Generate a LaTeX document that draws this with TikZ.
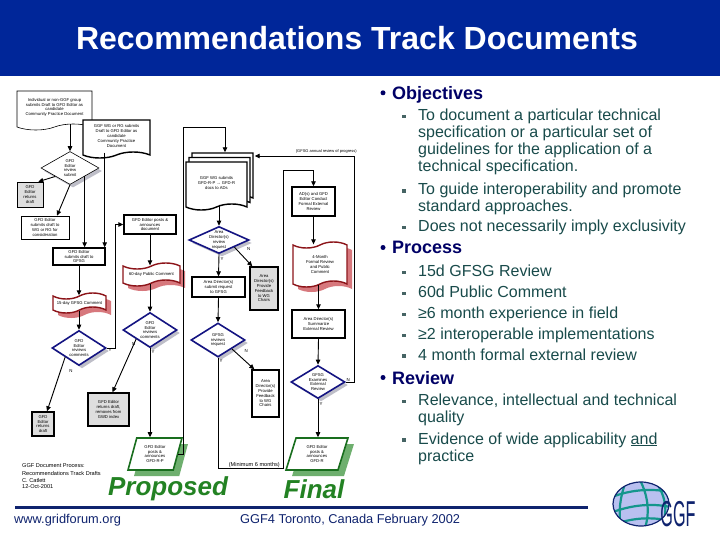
\documentclass[tikz,border=0pt]{standalone}
\usepackage{fontspec}
\setmainfont{Liberation Sans}
\usepackage{tikz}
\usetikzlibrary{arrows.meta,shapes.geometric,shapes.symbols,shadows}
\definecolor{slideblue}{RGB}{0,38,153}
\definecolor{headnavy}{RGB}{0,0,102}
\definecolor{bodyteal}{RGB}{25,75,75}
\definecolor{bulgray}{RGB}{70,100,100}
\definecolor{dnavy}{RGB}{20,20,130}
\definecolor{flagred}{RGB}{140,20,25}
\definecolor{flagpink}{RGB}{215,120,125}
\definecolor{pgreen}{RGB}{25,110,30}
\definecolor{pgreenlt}{RGB}{110,175,110}
\definecolor{wordgreen}{RGB}{35,130,35}
\definecolor{shgray}{RGB}{190,190,200}
\definecolor{boxgray}{RGB}{222,222,222}
\definecolor{footnavy}{RGB}{15,35,110}
\definecolor{globefill}{RGB}{185,192,240}
\definecolor{globegrid}{RGB}{20,150,140}
\newcommand{\fcfont}{\fontsize{4.2}{4.8}\selectfont}
\newcommand{\bulX}{404}
\newcommand{\txtX}{418}
\tikzset{
  fc/.style      ={font=\fcfont,align=center,inner sep=0pt,text=black},
  fcbox/.style   ={fc,rectangle,draw=black,line width=1.4pt,fill=white},
  fcthin/.style  ={fcbox,line width=0.6pt},
  fcgray/.style  ={fcbox,fill=boxgray},
  fcdoc/.style   ={fc,tape,tape bend top=none,tape bend height=6pt,draw=black,line width=1.4pt,fill=white},
  fcflag/.style  ={fc,tape,tape bend height=6pt,draw=flagred,line width=1.4pt,fill=white,
                   drop shadow={shadow xshift=5pt,shadow yshift=-5pt,fill=flagpink,opacity=1}},
  fcdec/.style   ={fc,diamond,aspect=1.7,draw=dnavy,line width=1.6pt,fill=white,
                   drop shadow={shadow xshift=3pt,shadow yshift=-3pt,fill=shgray,opacity=1}},
  fcdecthin/.style={fcdec,draw=black,line width=0.6pt},
  fcpost/.style  ={fc,trapezium,trapezium left angle=74,trapezium right angle=106,
                   trapezium stretches=true,draw=pgreen,line width=1.6pt,fill=white,
                   drop shadow={shadow xshift=6pt,shadow yshift=-6pt,fill=pgreenlt,opacity=1}},
  arr/.style     ={line width=0.9pt,-{Triangle[length=5pt,width=4.5pt]}},
  yn/.style      ={font=\fontsize{4.4}{4.4}\selectfont,inner sep=0.5pt},
  note/.style    ={font=\fontsize{4.6}{5.4}\selectfont,inner sep=0pt},
  bigword/.style ={font=\fontsize{26}{26}\selectfont\bfseries\itshape,text=wordgreen,inner sep=0pt},
  headdot/.style ={circle,fill=headnavy,inner sep=0pt,minimum size=5pt},
  subsq/.style   ={rectangle,fill=bulgray,inner sep=0pt,minimum size=3.4pt},
  head/.style    ={font=\fontsize{18}{20}\selectfont\bfseries,text=headnavy,anchor=base west,inner sep=0pt},
  body/.style    ={font=\fontsize{16}{17}\selectfont,text=bodyteal,anchor=base west,inner sep=0pt},
  foot/.style    ={font=\fontsize{12.8}{13}\selectfont,text=footnavy,anchor=base west,inner sep=0pt},
}
\newcommand{\headline}[3]{%
  \node[headdot] (#1dot) at (383,#2-6.5) {};
  \node[head] (#1) at (392,#2) {#3};}
\newcommand{\bitem}[3]{%
  \node[subsq] (#1sq) at (\bulX,#2-4) {};
  \node[body] (#1) at (\txtX,#2) {#3};}
\newcommand{\bmore}[3]{\node[body] (#1) at (\txtX,#2) {#3};}

\begin{document}
\begin{tikzpicture}[x=1pt,y=-1pt]
  \fill[white] (0,0) rectangle (720,540);
  \useasboundingbox (0,0) rectangle (720,540);
  \fill[slideblue] (0,0) rectangle (720,76);
  \node[font=\fontsize{32}{36}\selectfont\bfseries,text=white] (title) at (357,38) {Recommendations Track Documents};

  % draft intake
  \node[fcdoc,line width=0.6pt,minimum width=75pt,minimum height=39pt] (indiv) at (54.5,107.5)
    {Individual or non-GGF group\\submits Draft to GFD Editor as\\candidate\\Community Practice Document};
  \node[fcdoc,minimum width=67pt,minimum height=38pt] (wgdoc) at (116.5,136)
    {GGF WG or RG submits\\Draft to GFD Editor as\\candidate\\Community Practice\\Document};
  \node[fcdecthin,minimum width=58pt,minimum height=33pt] (edrev) at (70,168) {GFD\\Editor\\review\\submit};
  \node[fcgray,line width=0.6pt,minimum width=26pt,minimum height=25pt] (edret1) at (30,194.5) {GFD\\Editor\\returns\\draft};
  \node[fcthin,minimum width=48pt,minimum height=23pt] (edwg) at (45,227.5) {GFD Editor\\submits draft to\\WG or RG for\\consideration};
  \node[fcbox,minimum width=52pt,minimum height=17pt] (edgfsg) at (79,256.5) {GFD Editor\\submits draft to\\GFSG};
  \node[fcflag,minimum width=53pt,minimum height=20pt] (gfsgcom) at (79.5,303) {15-day GFSG Comment};
  \node[fcdec,minimum width=54pt,minimum height=35pt] (edcom1) at (79,348) {GFD\\Editor\\reviews\\comments};
  \node[fcgray,minimum width=22pt,minimum height=24pt] (edret2) at (43,424) {GFD\\Editor\\returns\\draft};
  \node[fcbox,minimum width=52pt,minimum height=19pt] (posts) at (150,224.5) {GFD Editor posts \&\\announces\\document};
  \node[fcflag,minimum width=57pt,minimum height=23pt] (pubcom) at (151.5,274.5) {60-day Public Comment};
  \node[fcdec,minimum width=54pt,minimum height=35pt] (edcom2) at (150,330) {GFD\\Editor\\reviews\\comments};
  \node[fcgray,minimum width=41pt,minimum height=33pt] (edret3) at (108.5,409.5) {GFD Editor\\returns draft,\\removes from\\GWD index};
  \node[fcpost,minimum width=54pt,minimum height=32pt] (rp) at (155,454) {GFD Editor\\posts \&\\announces\\GFD-R-P};

  % AD / GFSG path
  \node[fcdoc,minimum width=61pt,minimum height=48pt,
        copy shadow={shadow xshift=6pt,shadow yshift=9pt},
        copy shadow={shadow xshift=3pt,shadow yshift=4.5pt}] (stack) at (216.5,183)
    {GGF WG submits\\GFD-R-P → GFD-R\\docs to ADs};
  \node[fcdec,aspect=2.2,minimum width=60pt,minimum height=27pt] (adrev) at (219,240) {Area\\Director(s)\\review\\request};
  \node[fcgray,minimum width=28pt,minimum height=43pt] (adfb1) at (264,288.5) {Area\\Director(s)\\Provide\\Feedback\\to WG\\Chairs};
  \node[fcbox,minimum width=53pt,minimum height=20pt] (adsub) at (218.5,287) {Area Director(s)\\submit request\\to GFSG};
  \node[fcdec,minimum width=54pt,minimum height=34pt] (gfsgrev) at (218,340) {GFSG\\reviews\\request};
  \node[fcbox,minimum width=27pt,minimum height=47pt] (adfb2) at (265.5,393.5) {Area\\Director(s)\\Provide\\Feedback\\to WG\\Chairs};
  \node[fcbox,minimum width=43pt,minimum height=29pt] (extrev) at (313.5,201.5) {AD(s) and GFD\\Editor Conduct\\Formal External\\Review};
  \node[fcflag,minimum width=54pt,minimum height=45pt] (fourmo) at (320,264.5) {4-Month\\Formal Review\\and Public\\Comment};
  \node[fcbox,minimum width=53pt,minimum height=28pt] (adsum) at (318.5,324) {Area Director(s)\\Summarize\\External Review};
  \node[fcdec,minimum width=54pt,minimum height=33pt] (gfsgex) at (318,382) {GFSG\\Examines\\External\\Review};
  \node[fcpost,minimum width=62pt,minimum height=32pt] (rfin) at (317,454) {GFD Editor\\posts \&\\announces\\GFD-R};

  \coordinate (gfs) at ([xshift=-1pt]edgfsg.north east);
  \coordinate (lp1) at (183,127);
  \coordinate (lp2) at (225,127);
  \coordinate (stk) at ([xshift=8.5pt,yshift=9pt]stack.north);
  \coordinate (stkE) at ([xshift=7pt,yshift=27pt]stack.east);
  \coordinate (mLow) at (283,468);
  \coordinate (mTop) at (283,170);

  \draw[arr] (edrev.north |- indiv.south) -- (edrev.north);
  \draw[arr] (gfs |- wgdoc.south) -- (gfs);
  \draw[arr] (edrev.south west) -- ([xshift=-5pt]edret1.north east);
  \draw[arr] (edrev.south) -- ([xshift=12pt]edwg.north);
  \draw[arr] (edrev.south east) -- (edrev.south east |- edgfsg.north);
  \draw[arr] (edgfsg.south) -- (edgfsg.south |- gfsgcom.north);
  \draw[arr] (edcom1.north |- gfsgcom.south) -- (edcom1.north);
  \draw[arr] (edcom1.south west) -- ([xshift=4pt]edret2.north);
  \draw[arr] (edcom1.east) -- ++(9,0) |- (posts.west);
  \draw[arr] (posts.south) -- (posts.south |- pubcom.north);
  \draw[arr] (edcom2.north |- pubcom.south) -- (edcom2.north);
  \draw[arr] (edcom2.south west) -- ([xshift=4pt]edret3.north);
  \draw[arr] (edcom2.south) -- (edcom2.south |- rp.north);
  \draw[arr] (rp.east) -- (rp.east -| lp1) -- (lp1) -- (lp2) -- (stk);
  \draw[arr] (adrev.north |- stack.south) -- (adrev.north);
  \draw[arr] (adrev.south east) -- ([xshift=3pt]adfb1.north west);
  \draw[arr] (adrev.south) -- (adsub.north);
  \draw[arr] (adsub.south) -- (gfsgrev.north);
  \draw[arr] (gfsgrev.south east) -- ([xshift=3pt]adfb2.north west);
  \draw[arr] (gfsgrev.south) |- (mLow) -- (mTop) -| (extrev.north);
  \draw[arr] (extrev.south) -- (extrev.south |- fourmo.north);
  \draw[arr] (adsum.north |- fourmo.south) -- (adsum.north);
  \draw[arr] (adsum.south) -- (gfsgex.north);
  \draw[arr] (gfsgex.south) -- (gfsgex.south |- rfin.north);
  \draw[arr] (gfsgex.east) -- ++(9,0) |- (stkE);

  \node[yn,anchor=north west] (y1) at ([xshift=1pt]edcom1.east) {Y};
  \node[yn,anchor=north] (n1) at ([xshift=-8pt,yshift=-2pt]edcom1.south) {N};
  \node[yn,anchor=north west] (y2) at ([xshift=1pt,yshift=-1pt]edcom2.south) {Y};
  \node[yn,anchor=north east] (n2) at ([yshift=-3pt]edcom2.south west) {N};
  \node[yn,anchor=north west] (y3) at ([xshift=1pt,yshift=-2pt]adrev.south) {Y};
  \node[yn,anchor=north west] (n3) at ([xshift=12pt]adrev.south east) {N};
  \node[yn,anchor=north west] (y4) at ([xshift=1pt,yshift=-1pt]gfsgrev.south) {Y};
  \node[yn,anchor=north west] (n4) at ([xshift=12pt]gfsgrev.south east) {N};
  \node[yn,anchor=south west] (n5) at (gfsgex.east) {N};
  \node[yn,anchor=north west] (y5) at ([xshift=1pt,yshift=-2pt]gfsgex.south) {Y};

  \node[note,font=\fontsize{4}{4.6}\selectfont,anchor=base east] (annual) at (357,153) {(GFSG annual review of progress)};
  \node[note,font=\fontsize{5.6}{6}\selectfont,anchor=base east] (sixmo) at (280,466) {(Minimum 6 months)};
  \node[note,font=\fontsize{5.6}{6.2}\selectfont,anchor=north west,align=left] (credit) at (22,463)
    {GGF Document Process:\\[2.5pt]Recommendations Track Drafts\\C. Catlett\\12-Oct-2001};
  \node[bigword] (proposed) at (168,489) {Proposed};
  \node[bigword] (final) at (314,489) {Final};

  % bullet text
  \headline{obj}{99.3}{Objectives}
  \bitem{o1}{120.7}{To document a particular technical}
  \bmore{o1b}{137.3}{specification or a particular set of}
  \bmore{o1c}{154.5}{guidelines for the application of a}
  \bmore{o1d}{171.7}{technical specification.}
  \bitem{o2}{195}{To guide interoperability and promote}
  \bmore{o2b}{211.5}{standard approaches.}
  \bitem{o3}{231.7}{Does not necessarily imply exclusivity}
  \headline{proc}{254}{Process}
  \bitem{p1}{276.7}{15d GFSG Review}
  \bitem{p2}{297.3}{60d Public Comment}
  \bitem{p3}{318.3}{≥6 month experience in field}
  \bitem{p4}{339.3}{≥2 interoperable implementations}
  \bitem{p5}{360}{4 month formal external review}
  \headline{rev}{384}{Review}
  \bitem{r1}{405.7}{Relevance, intellectual and technical}
  \bmore{r1b}{422.7}{quality}
  \bitem{r2}{444}{Evidence of wide applicability \underline{and}}
  \bmore{r2b}{461.7}{practice}

  % footer and logo
  \draw[footnavy,line width=3pt] (15,507) -- (588,507);
  \node[foot] (url) at (14,523) {www.gridforum.org};
  \node[foot] (venue) at (240,523) {GGF4 Toronto, Canada February 2002};
  \fill[globefill] (641,504) ellipse (28 and 22);
  \begin{scope}
    \clip (641,504) ellipse (28 and 22);
    \draw[globegrid,line width=2.2pt] (626,481) .. controls (620,497) and (618,512) .. (621,528);
    \draw[globegrid,line width=2.2pt] (640,480) .. controls (648,496) and (650,512) .. (645,528);
    \draw[globegrid,line width=2.2pt] (656,482) .. controls (666,497) and (668,512) .. (662,526);
    \draw[globegrid,line width=2.2pt] (612,497) .. controls (630,490) and (650,488) .. (670,492);
    \draw[globegrid,line width=2.2pt] (613,512) .. controls (632,505) and (652,503) .. (670,507);
    \draw[globegrid,line width=2.2pt] (618,523) .. controls (635,518) and (650,517) .. (666,520);
  \end{scope}
  \draw[footnavy,line width=1.2pt] (641,504) ellipse (28 and 22);
  \node[text=footnavy,font=\fontsize{36}{36}\selectfont,inner sep=0pt] (ggf) at (678,514) {\scalebox{0.45}[1]{GGF}};
\end{tikzpicture}
\end{document}
